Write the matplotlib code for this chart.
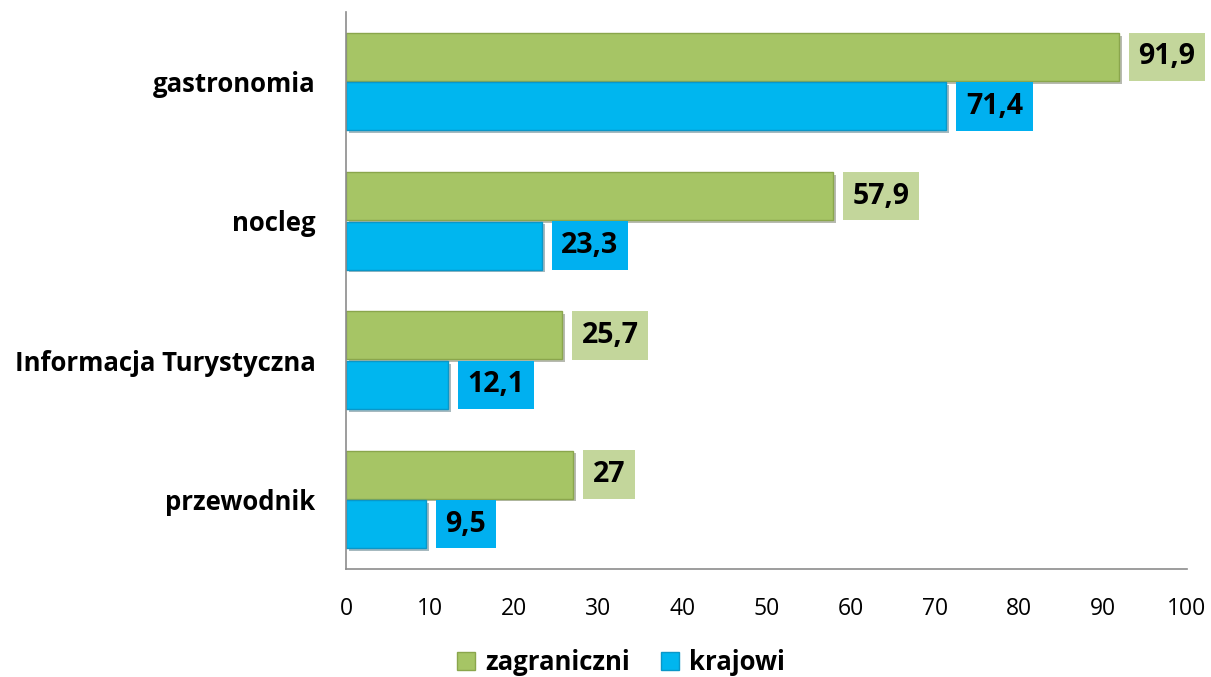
import numpy as np
import matplotlib
matplotlib.use("Agg")
import matplotlib.pyplot as plt
import matplotlib.patheffects as pe
from matplotlib.patches import Patch

# dane z wykresu
kategorie = ["gastronomia", "nocleg", "Informacja Turystyczna", "przewodnik"]
zagraniczni = [91.9, 57.9, 25.7, 27]
krajowi = [71.4, 23.3, 12.1, 9.5]
serie = ["zagraniczni", "krajowi"]
x_ticks = [0, 10, 20, 30, 40, 50, 60, 70, 80, 90, 100]

plt.rcParams['font.family'] = ['Open Sans', 'DejaVu Sans']

kolor_ziel = "#a6c565"
kolor_nieb = "#00b6ef"
tlo_ziel = "#c3d69b"
tlo_nieb = "#00b0f0"


def fmt(v):
    s = f"{v:g}"
    return s.replace(".", ",")


fig = plt.figure(figsize=(12.11, 6.77), dpi=100)
ax = fig.add_axes([0.2857, 0.1595, 0.6945, 0.8228])

y = np.arange(len(kategorie))
h = 0.345
cien = [pe.SimplePatchShadow(offset=(2, -2), alpha=0.35), pe.Normal()]

b1 = ax.barh(y - h / 2 - 0.005, zagraniczni, height=h, color=kolor_ziel,
             edgecolor="#8aa64c", linewidth=1.0)
b2 = ax.barh(y + h / 2 + 0.005, krajowi, height=h, color=kolor_nieb,
             edgecolor="#0a97c8", linewidth=1.0)
for bar in list(b1) + list(b2):
    bar.set_path_effects(cien)

for bars, vals, tlo in [(b1, zagraniczni, tlo_ziel), (b2, krajowi, tlo_nieb)]:
    for bar, v in zip(bars, vals):
        yc = bar.get_y() + bar.get_height() / 2
        ax.annotate(fmt(v), xy=(v, yc), xytext=(14, 0), textcoords="offset points",
                    ha="left", va="center", fontsize=20.5, fontweight="bold",
                    color="black",
                    bbox=dict(boxstyle="square,pad=0.34", facecolor=tlo, edgecolor="none"),
                    annotation_clip=False)

ax.set_xlim(0, 100)
ax.set_ylim(len(kategorie) - 0.5, -0.5)
ax.set_xticks(x_ticks)
ax.set_xticklabels([str(t) for t in x_ticks], fontsize=16.5)
ax.set_yticks(y)
ax.set_yticklabels(kategorie, fontsize=18.5, fontweight="bold")
ax.tick_params(axis="both", length=0)
ax.tick_params(axis="x", pad=20)
ax.tick_params(axis="y", pad=22)

for s in ["top", "right"]:
    ax.spines[s].set_visible(False)
for s in ["left", "bottom"]:
    ax.spines[s].set_color("#8c8c8c")
    ax.spines[s].set_linewidth(1.2)

uchwyty = [Patch(facecolor=kolor_ziel, edgecolor="#8aa64c"),
           Patch(facecolor=kolor_nieb, edgecolor="#0a97c8")]
fig.legend(uchwyty, serie, loc="center", bbox_to_anchor=(0.513, 0.022),
           ncol=2, frameon=False, prop={"size": 18.5, "weight": "bold"},
           handlelength=0.7, handleheight=0.7, handletextpad=0.4, columnspacing=1.2)

fig.savefig("out.png", dpi=100)
